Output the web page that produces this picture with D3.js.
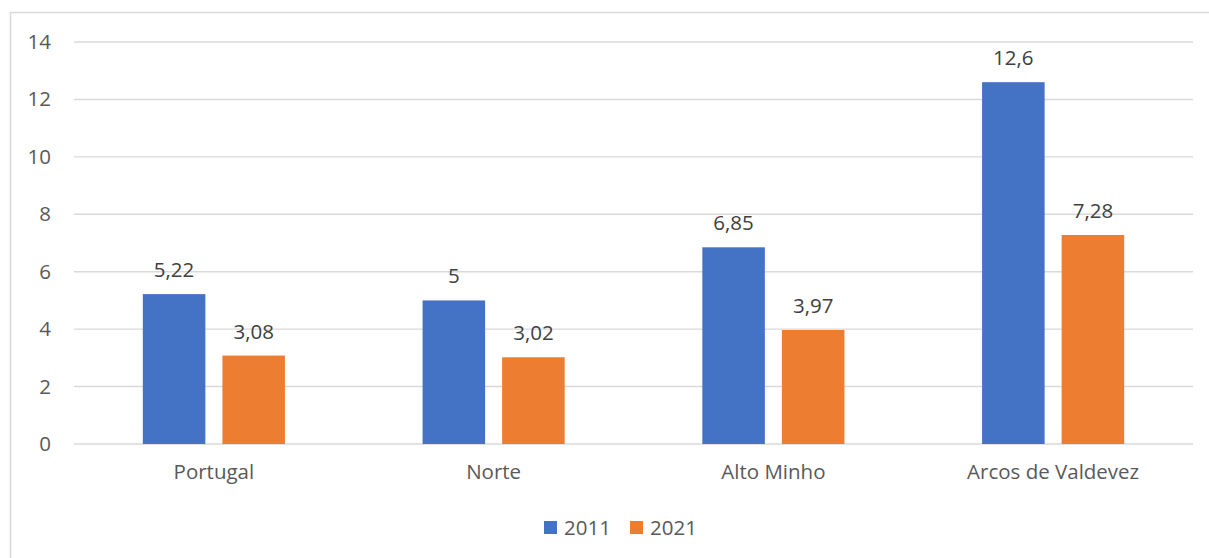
<!DOCTYPE html>
<html>
<head>
<meta charset="utf-8">
<script src="https://cdn.jsdelivr.net/npm/d3@7"></script>
<style>
  body { margin: 0; background: #fff; }
  text { font-family: "Open Sans", "Noto Sans", sans-serif; }
</style>
</head>
<body>
<div id="chart"></div>
<script>
// data
let categories = ["Portugal", "Norte", "Alto Minho", "Arcos de Valdevez"];
let seriesNames = ["2011", "2021"];
let values2011 = [5.22, 5, 6.85, 12.6];
let values2021 = [3.08, 3.02, 3.97, 7.28];
let yTicks = [0, 2, 4, 6, 8, 10, 12, 14];
let colors = ["#4472C4", "#ED7D31"];

let width = 1209, height = 558;
let margin = {top: 42, right: 16, bottom: 114, left: 74};
let w = width - margin.left - margin.right,
    h = height - margin.top - margin.bottom;
let fs = 20.5;

let svg = d3.select("#chart").append("svg")
  .attr("width", width)
  .attr("height", height);

// chart frame (top and left edges only show in the reference)
svg.append("path")
  .attr("d", "M10.5," + height + "V12.5H" + width)
  .attr("fill", "none")
  .attr("stroke", "#d9d9d9")
  .attr("stroke-width", 1.5);

let g = svg.append("g")
  .attr("transform", "translate(" + margin.left + "," + margin.top + ")");

let xScale = d3.scaleBand().domain(categories).range([0, w]);
let yScale = d3.scaleLinear().domain([0, 14]).range([h, 0]);

// the two bars in a group take about half of the band
let groupW = xScale.bandwidth() * 0.508;
let xInner = d3.scaleBand().domain(seriesNames)
  .range([0, groupW]).paddingInner(0.214);

// gridlines
g.append("g").selectAll("line")
  .data(yTicks).enter().append("line")
  .attr("x1", 0).attr("x2", w)
  .attr("y1", d => yScale(d)).attr("y2", d => yScale(d))
  .attr("stroke", "#d9d9d9")
  .attr("stroke-width", 1.4);

// y axis labels
let yAxis = g.append("g")
  .call(d3.axisLeft(yScale).tickValues(yTicks).tickSize(0).tickPadding(23));
yAxis.select(".domain").remove();
yAxis.selectAll("text")
  .style("font-family", "'Open Sans', sans-serif")
  .attr("font-size", fs)
  .attr("fill", "#595959");

// x axis labels
let xAxis = g.append("g")
  .attr("transform", "translate(0," + h + ")")
  .call(d3.axisBottom(xScale).tickSize(0).tickPadding(20));
xAxis.select(".domain").remove();
xAxis.selectAll("text")
  .style("font-family", "'Open Sans', sans-serif")
  .attr("font-size", fs)
  .attr("fill", "#595959");

// rows for the bars
let rows = [];
categories.forEach((c, i) => {
  rows.push({cat: c, s: "2011", v: values2011[i], color: colors[0]});
  rows.push({cat: c, s: "2021", v: values2021[i], color: colors[1]});
});

let barX = d => xScale(d.cat) + (xScale.bandwidth() - groupW) / 2 + xInner(d.s);

g.append("g").selectAll("rect")
  .data(rows).enter().append("rect")
  .attr("x", barX)
  .attr("y", d => yScale(d.v))
  .attr("width", xInner.bandwidth())
  .attr("height", d => h - yScale(d.v))
  .attr("fill", d => d.color);

// value labels, portuguese decimal comma
g.append("g").selectAll("text")
  .data(rows).enter().append("text")
  .attr("x", d => barX(d) + xInner.bandwidth() / 2)
  .attr("y", d => yScale(d.v) - 17)
  .attr("text-anchor", "middle")
  .attr("font-size", fs)
  .attr("fill", "#404040")
  .text(d => String(d.v).replace(".", ","));

// legend
let legend = svg.append("g").attr("transform", "translate(544,521)");
let items = legend.selectAll("g")
  .data(seriesNames).enter().append("g")
  .attr("transform", (d, i) => "translate(" + (i * 86) + ",0)");
items.append("rect")
  .attr("width", 13).attr("height", 13)
  .attr("fill", (d, i) => colors[i]);
items.append("text")
  .attr("x", 20).attr("y", 14)
  .attr("font-size", fs)
  .attr("fill", "#595959")
  .text(d => d);
</script>
</body>
</html>
